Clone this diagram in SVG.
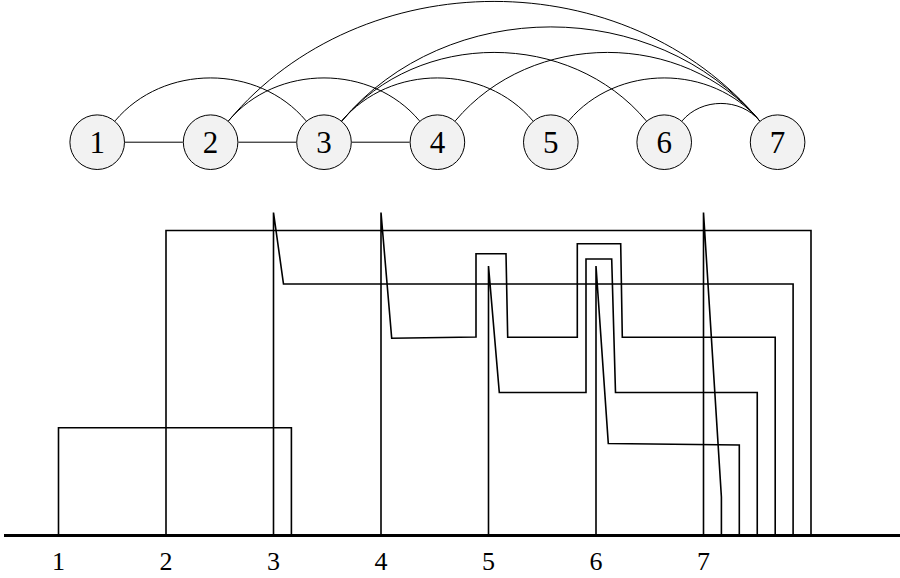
<svg xmlns="http://www.w3.org/2000/svg" width="900" height="578" viewBox="0 0 900 578">
<style>
.node circle{fill:#f2f2f2;stroke:#000;stroke-width:1}
.node text{font-family:"Liberation Serif","DejaVu Serif",serif;font-size:31px;text-anchor:middle}
.edge{fill:none;stroke:#000;stroke-width:1}
.wire{fill:none;stroke:#000;stroke-width:1.6;stroke-linejoin:miter}
.axis{stroke:#000;stroke-width:3}
.lbl{font-family:"Liberation Serif","DejaVu Serif",serif;font-size:26px;text-anchor:middle}
</style>
<rect width="900" height="578" fill="#fff"/>
<g id="connectors">
<path class="edge" d="M125,142.2H182.8M238.4,142.2H296.2M351.8,142.2H409.6"/>
<path class="edge" d="M115.07,120.9C163.15,63.6 258.05,63.6 306.13,120.9"/>
<path class="edge" d="M228.47,120.9C276.55,63.6 371.45,63.6 419.53,120.9"/>
<path class="edge" d="M341.87,120.9C389.95,63.6 484.85,63.6 532.93,120.9"/>
<path class="edge" d="M341.87,120.9C418.49,29.59 569.71,29.59 646.33,120.9"/>
<path class="edge" d="M341.87,120.9C447.03,-4.41 654.57,-4.41 759.73,120.9"/>
<path class="edge" d="M228.47,120.9C362.17,-38.42 626.03,-38.42 759.73,120.9"/>
<path class="edge" d="M455.27,120.9C531.89,29.59 683.11,29.59 759.73,120.9"/>
<path class="edge" d="M568.67,120.9C616.75,63.6 711.65,63.6 759.73,120.9"/>
<path class="edge" d="M682.07,120.9C701.61,97.61 740.19,97.61 759.73,120.9"/>
</g>
<g id="n1" class="node"><circle cx="97.2" cy="142.2" r="27.3"/><text x="97.2" y="153.3">1</text></g>
<g id="n2" class="node"><circle cx="210.6" cy="142.2" r="27.3"/><text x="210.6" y="153.3">2</text></g>
<g id="n3" class="node"><circle cx="324" cy="142.2" r="27.3"/><text x="324" y="153.3">3</text></g>
<g id="n4" class="node"><circle cx="437.4" cy="142.2" r="27.3"/><text x="437.4" y="153.3">4</text></g>
<g id="n5" class="node"><circle cx="550.8" cy="142.2" r="27.3"/><text x="550.8" y="153.3">5</text></g>
<g id="n6" class="node"><circle cx="664.2" cy="142.2" r="27.3"/><text x="664.2" y="153.3">6</text></g>
<g id="n7" class="node"><circle cx="777.6" cy="142.2" r="27.3"/><text x="777.6" y="153.3">7</text></g>
<g id="wires">
<path class="wire" d="M58.5,535V427.7H291.4V535"/>
<path class="wire" d="M166,535V230.5H811V535"/>
<path class="wire" d="M273.5,535V212.5L283.5,284H793.1V535"/>
<path class="wire" d="M381,535V212.5L391.7,338.3L476,337V253.8H506L507.7,337.3H577.3V243.8H620.7L622.3,337.3H775.2V535"/>
<path class="wire" d="M488.5,535V266L499.3,392.5H586V259H611.7L615.5,392.5H757.25V535"/>
<path class="wire" d="M596,535V266L608.3,443.5L739.3,445V535"/>
<path class="wire" d="M703.5,535V212.5L721.4,497V535"/>
</g>
<g id="axis">
<line class="axis" x1="4" y1="535.5" x2="900" y2="535.5"/>
<text class="lbl" x="58.5" y="569.5">1</text>
<text class="lbl" x="166" y="569.5">2</text>
<text class="lbl" x="273.5" y="569.5">3</text>
<text class="lbl" x="381" y="569.5">4</text>
<text class="lbl" x="488.5" y="569.5">5</text>
<text class="lbl" x="596" y="569.5">6</text>
<text class="lbl" x="703.5" y="569.5">7</text>
</g>
</svg>
